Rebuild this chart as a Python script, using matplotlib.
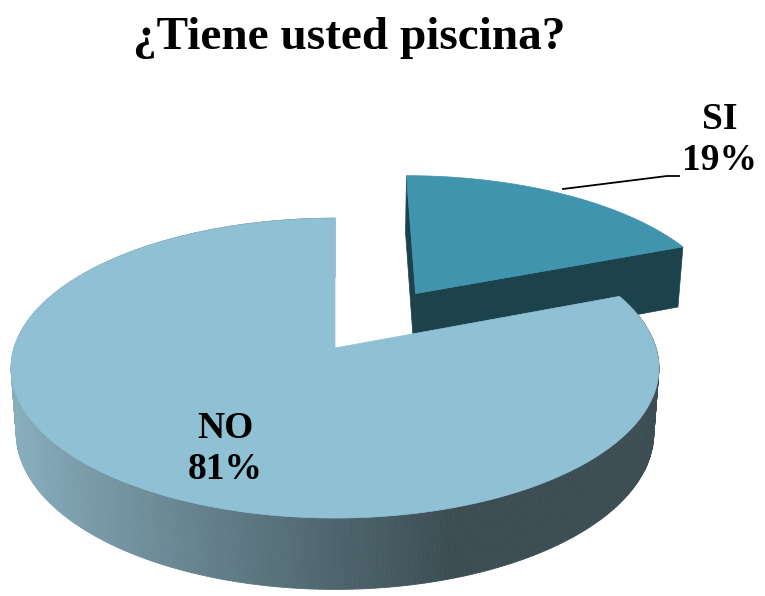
import numpy as np
import matplotlib
matplotlib.use("Agg")
import matplotlib.pyplot as plt
from matplotlib.collections import PolyCollection
from matplotlib.colors import to_rgb

labels = ["SI", "NO"]
values = [19, 81]
title = "¿Tiene usted piscina?"

top_colors = ["#4094ae", "#8fc0d3"]
side_dark = "#1c424b"

# camera / pie geometry (pixel space)
CX, CY = 335, 348
ELEV = np.radians(27.3)
D = 6.62
F = 2125.0
H = 0.23
EXPLODE = [0.47, 0.0]


def project(x, y, z):
    x = np.asarray(x, float)
    vy = np.asarray(y, float) + D * np.cos(ELEV)
    vz = np.asarray(z, float) - D * np.sin(ELEV)
    depth = vy * np.cos(ELEV) - vz * np.sin(ELEV)
    up = vy * np.sin(ELEV) + vz * np.cos(ELEV)
    return CX + F * x / depth, CY - F * up / depth


def arc(a0, a1, ox, oy, z, n=200):
    t = np.radians(np.linspace(a0, a1, n))
    return ox + np.cos(t), oy + np.sin(t), np.full(n, z)


def poly(xs, ys, zs):
    px, py = project(xs, ys, zs)
    return np.column_stack([px, py])


fig = plt.figure(figsize=(7.65, 5.96), dpi=100)
ax = fig.add_axes([0, 0, 1, 1])
ax.set_xlim(0, 765)
ax.set_ylim(596, 0)
ax.axis("off")

# slice angles, clockwise from 12 o'clock
fracs = np.array(values) / sum(values)
starts = 90 - 360 * np.concatenate([[0], np.cumsum(fracs)[:-1]])
ends = starts - 360 * fracs

wall_light = np.array(to_rgb("#88aebe"))
wall_dark = np.array(to_rgb("#3c4e54"))

# draw the far (exploded) slice first, then the big one in front
for i in [0, 1]:
    a0, a1 = starts[i], ends[i]
    mid = np.radians((a0 + a1) / 2)
    ox, oy = EXPLODE[i] * np.cos(mid), EXPLODE[i] * np.sin(mid)

    if EXPLODE[i] > 0:
        # radial cut faces
        for a in [a0, a1]:
            ex, ey = ox + np.cos(np.radians(a)), oy + np.sin(np.radians(a))
            face = poly([ox, ex, ex, ox], [oy, ey, ey, oy], [0, 0, -H, -H])
            ax.add_patch(plt.Polygon(face, closed=True, fc=side_dark,
                                     ec=side_dark, lw=0.5))
    else:
        # outer wall with left-to-right shading
        t = np.radians(np.linspace(a0, a1, 400))
        quads, cols = [], []
        for k in range(len(t) - 1):
            xs = ox + np.cos([t[k], t[k + 1], t[k + 1], t[k]])
            ys = oy + np.sin([t[k], t[k + 1], t[k + 1], t[k]])
            q = poly(xs, ys, [0, 0, -H, -H])
            quads.append(q)
            s = np.clip((q[:, 0].mean() - 20) / 430, 0, 1) ** 0.9
            cols.append(wall_light * (1 - s) + wall_dark * s)
        # back-to-front so the near wall wins
        order = np.argsort([-np.mean(q[:, 1]) for q in quads])[::-1]
        pc = PolyCollection([quads[k] for k in order],
                            facecolors=[cols[k] for k in order],
                            edgecolors=[cols[k] for k in order], linewidths=0.6)
        ax.add_collection(pc)

    xs, ys, zs = arc(a0, a1, ox, oy, 0)
    top = poly(np.r_[ox, xs], np.r_[oy, ys], np.r_[0, zs])
    ax.add_patch(plt.Polygon(top, closed=True, fc=top_colors[i],
                             ec=top_colors[i], lw=0.5))

# labels
pcts = [f"{v}%" for v in values]
font = dict(family="Liberation Serif", weight="bold", color="black")
ax.text(720, 140, f"{labels[0]}\n{pcts[0]}", ha="center", va="center",
        fontsize=27, linespacing=1.2, **font)
ax.text(225, 449, f"{labels[1]}\n{pcts[1]}", ha="center", va="center",
        fontsize=27, linespacing=1.2, **font)
ax.plot([563, 667, 679], [189, 176, 176], color="black", lw=1.3)

ax.text(349, 38, title, ha="center", va="center", fontsize=34, **font)

fig.savefig("out.png", dpi=100)
